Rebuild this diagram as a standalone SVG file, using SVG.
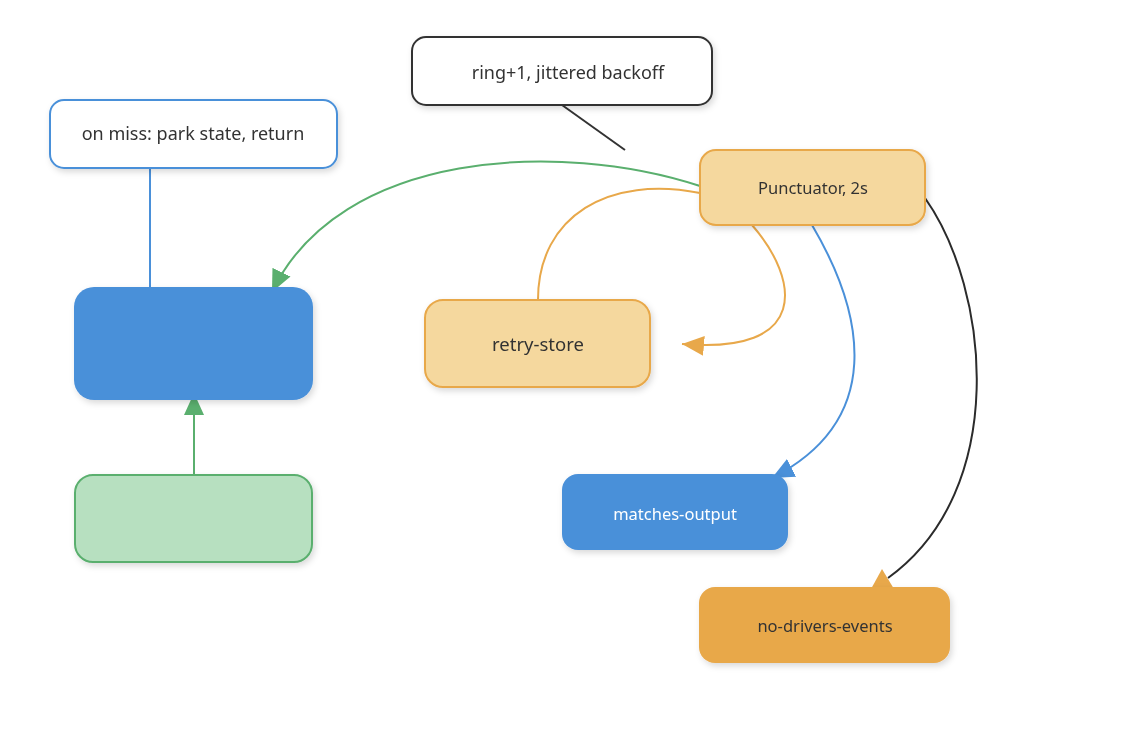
<svg xmlns="http://www.w3.org/2000/svg" width="1125" height="750" viewBox="0 0 1125 750">
<style>
text{font-family:"Noto Sans","Open Sans","Liberation Sans",sans-serif;fill:#333;text-anchor:middle;dominant-baseline:central}
.e{fill:none;stroke-width:2}
</style>
<defs>
<filter id="sh" x="-20%" y="-20%" width="140%" height="150%">
<feDropShadow dx="2" dy="3" stdDeviation="3" flood-color="#000" flood-opacity="0.15"/>
</filter>
<marker id="ag" viewBox="0 0 22 20" refX="22" refY="10" markerWidth="22" markerHeight="20" markerUnits="userSpaceOnUse" orient="auto"><path d="M0,0L22,10L0,20Z" fill="#5aaf6e"/></marker>
<marker id="ao" viewBox="0 0 22 20" refX="22" refY="10" markerWidth="22" markerHeight="20" markerUnits="userSpaceOnUse" orient="auto"><path d="M0,0L22,10L0,20Z" fill="#e8a84a"/></marker>
<marker id="ab" viewBox="0 0 22 20" refX="22" refY="10" markerWidth="22" markerHeight="20" markerUnits="userSpaceOnUse" orient="auto"><path d="M0,0L22,10L0,20Z" fill="#4a90d9"/></marker>
</defs>
<g id="connectors">
<path class="e" d="M562,105L625,150" stroke="#333"/>
<path class="e" d="M150,168L150,287" stroke="#4a90d9"/>
<path class="e" d="M194,475L194,393" stroke="#5aaf6e" marker-end="url(#ag)"/>
<path class="e" d="M700,186C560,140 340,150 272,292" stroke="#5aaf6e" marker-end="url(#ag)"/>
<path class="e" d="M700,193C610,175 538,215 538,300" stroke="#e8a84a"/>
<path class="e" d="M752,225C800,280 810,355 682,344" stroke="#e8a84a" marker-end="url(#ao)"/>
<path class="e" d="M812,225C865,315 885,420 772,478" stroke="#4a90d9" marker-end="url(#ab)"/>
<path class="e" d="M925,198C990,290 1010,490 888,578" stroke="#2b2b2b"/>
<path d="M871,589L882,569L894,589Z" fill="#e8a84a"/>
</g>
<g id="callout-ring" filter="url(#sh)">
<rect x="412" y="37" width="300" height="68" rx="14" fill="#fff" stroke="#333" stroke-width="2"/>
<text x="568" y="72" font-size="18">ring+1, jittered backoff</text>
</g>
<g id="callout-miss" filter="url(#sh)">
<rect x="50" y="100" width="287" height="68" rx="14" fill="#fff" stroke="#4a90d9" stroke-width="2"/>
<text x="193" y="133" font-size="18">on miss: park state, return</text>
</g>
<g id="node-blue" filter="url(#sh)">
<rect x="74" y="287" width="239" height="113" rx="20" fill="#4a90d9"/>
</g>
<g id="node-green" filter="url(#sh)">
<rect x="75" y="475" width="237" height="87" rx="18" fill="#b7e0c0" stroke="#5aaf6e" stroke-width="2"/>
</g>
<g id="node-punctuator" filter="url(#sh)">
<rect x="700" y="150" width="225" height="75" rx="16" fill="#f5d89e" stroke="#e8a84a" stroke-width="2"/>
<text x="813" y="187" font-size="16.5">Punctuator, 2s</text>
</g>
<g id="node-retry" filter="url(#sh)">
<rect x="425" y="300" width="225" height="87" rx="18" fill="#f5d89e" stroke="#e8a84a" stroke-width="2"/>
<text x="538" y="343" font-size="18.5">retry-store</text>
</g>
<g id="node-matches" filter="url(#sh)">
<rect x="562" y="474" width="226" height="76" rx="16" fill="#4a90d9"/>
<text x="675" y="513" font-size="16.5" style="fill:#fff">matches-output</text>
</g>
<g id="node-nodrivers" filter="url(#sh)">
<rect x="699" y="587" width="251" height="76" rx="16" fill="#e8a84a"/>
<text x="825" y="625" font-size="16.5">no-drivers-events</text>
</g>
</svg>
